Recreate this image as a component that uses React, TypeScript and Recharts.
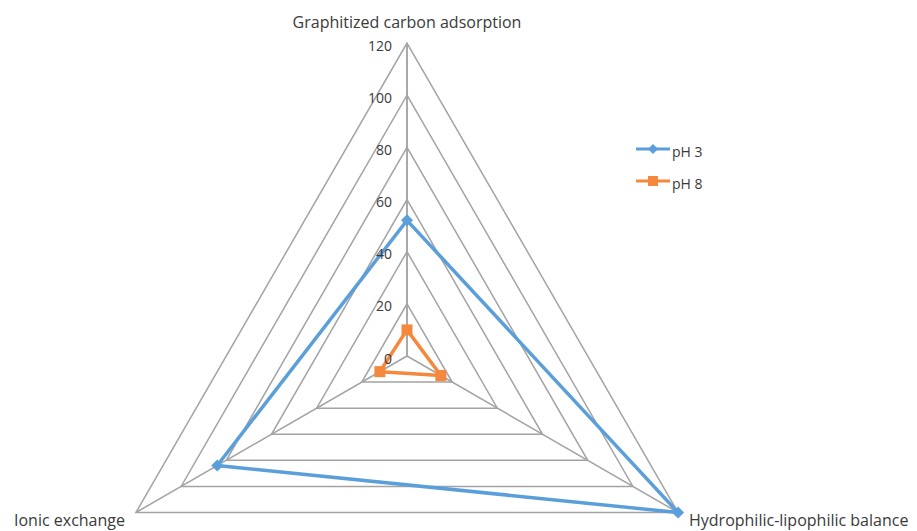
import { RadarChart, Radar, PolarGrid, PolarAngleAxis, PolarRadiusAxis } from "recharts"

const categories = [
  "Graphitized carbon adsorption",
  "Hydrophilic-lipophilic balance",
  "Ionic exchange",
]
const ph3Values = [52, 120, 84]
const ph8Values = [10, 15, 12]
const radiusTicks = [0, 20, 40, 60, 80, 100, 120]

const data = categories.map((name, i) => ({
  name,
  ph3: ph3Values[i],
  ph8: ph8Values[i],
}))

const BLUE = "#5b9fda"
const ORANGE = "#f5883c"
const GRID = "#a3a3a3"
const TEXT = "#3a3a3a"
const FONT = "'Open Sans', sans-serif"

function AngleTick(props: any) {
  const { x, y, payload, index } = props
  let dx = 0
  let dy = 0
  let anchor: "middle" | "start" | "end" = "middle"
  if (index === 0) {
    dy = -13
  } else if (index === 1) {
    dx = 4
    dy = 3
    anchor = "start"
  } else {
    dx = -4
    dy = 3
    anchor = "end"
  }
  return (
    <text
      x={x + dx}
      y={y + dy}
      textAnchor={anchor}
      dominantBaseline="central"
      fill={TEXT}
      fontSize={16}
      fontFamily={FONT}
    >
      {payload.value}
    </text>
  )
}

function RadiusTick(props: any) {
  const { x, y, payload } = props
  return (
    <text
      x={x - 15}
      y={y + 2}
      textAnchor="end"
      dominantBaseline="central"
      fill={TEXT}
      fontSize={14}
      fontFamily={FONT}
    >
      {payload.value}
    </text>
  )
}

function Diamond(props: any) {
  const { cx, cy } = props
  return <path d={`M${cx},${cy - 6} L${cx + 6},${cy} L${cx},${cy + 6} L${cx - 6},${cy} Z`} fill={BLUE} />
}

function Square(props: any) {
  const { cx, cy } = props
  return <rect x={cx - 5.5} y={cy - 5.5} width={11} height={11} fill={ORANGE} />
}

export default function App() {
  return (
    <div style={{ position: "absolute", left: 0, top: 0, width: 917, height: 531, background: "#fff", overflow: "hidden" }}>
      <RadarChart
        width={917}
        height={531}
        data={data}
        cx={407}
        cy={356}
        outerRadius={313}
        margin={{ top: 0, right: 0, bottom: 0, left: 0 }}
      >
        <PolarGrid gridType="polygon" stroke={GRID} strokeWidth={1.5} />
        <PolarAngleAxis dataKey="name" tick={<AngleTick />} tickLine={false} axisLine={false} />
        <PolarRadiusAxis
          angle={90}
          domain={[0, 120]}
          ticks={radiusTicks}
          tick={<RadiusTick />}
          tickLine={false}
          axisLine={{ stroke: GRID, strokeWidth: 1.5 }}
          orientation="left"
        />
        <Radar
          name="pH 3"
          dataKey="ph3"
          stroke={BLUE}
          strokeWidth={3.5}
          fill="none"
          fillOpacity={0}
          dot={<Diamond />}
          isAnimationActive={false}
        />
        <Radar
          name="pH 8"
          dataKey="ph8"
          stroke={ORANGE}
          strokeWidth={3.5}
          fill="none"
          fillOpacity={0}
          dot={<Square />}
          isAnimationActive={false}
        />
      </RadarChart>
      <svg
        width={120}
        height={60}
        style={{ position: "absolute", left: 630, top: 135 }}
      >
        <line x1={6} y1={14} x2={40} y2={14} stroke={BLUE} strokeWidth={3} />
        <path d="M23,9 L28,14 L23,19 L18,14 Z" fill={BLUE} />
        <text x={42} y={16} dominantBaseline="central" fontSize={14} fontFamily={FONT} fill={TEXT}>
          pH 3
        </text>
        <line x1={6} y1={46} x2={40} y2={46} stroke={ORANGE} strokeWidth={3} />
        <rect x={18} y={41} width={10} height={10} fill={ORANGE} />
        <text x={42} y={48} dominantBaseline="central" fontSize={14} fontFamily={FONT} fill={TEXT}>
          pH 8
        </text>
      </svg>
    </div>
  )
}
